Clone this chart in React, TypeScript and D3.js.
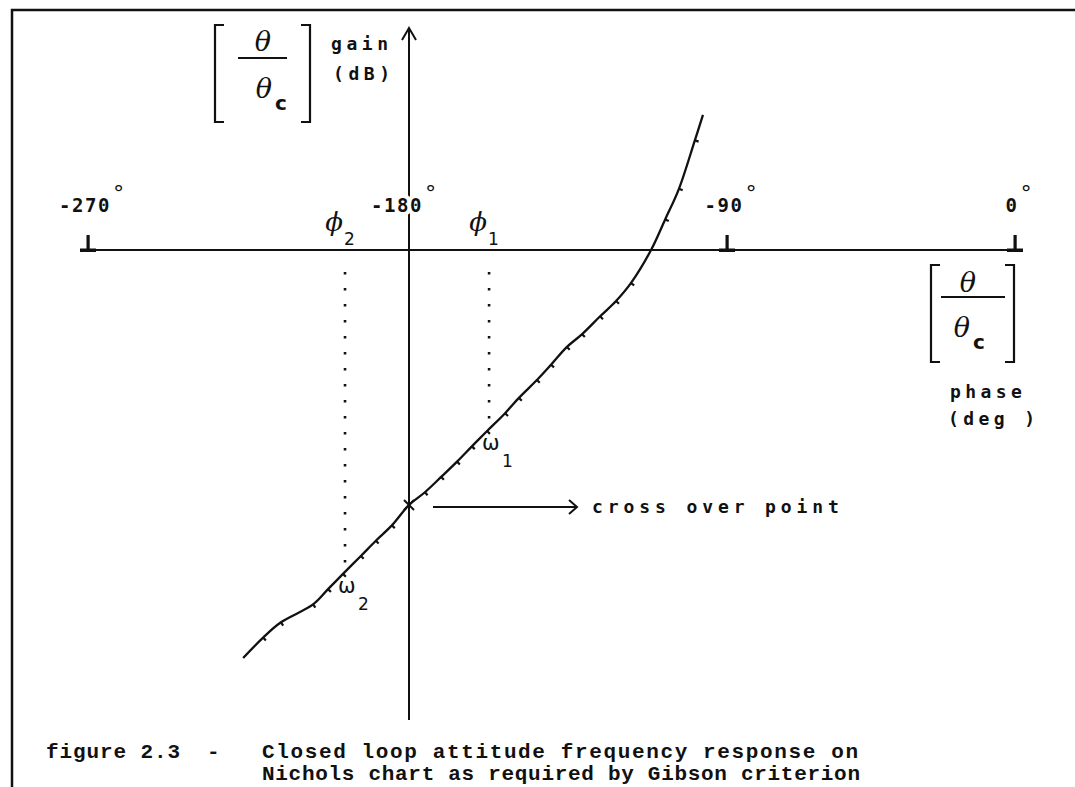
import React from 'react';
import * as d3 from 'd3';

// phase axis tick values (deg)
const phaseTicks = [-270, -180, -90, 0];

// closed loop attitude response: phase (deg), gain (dB)
const responsePhase = [
  -226.5, -220.9, -215.9, -206.9, -202.7, -198.5, -193.5, -189.3, -184.8, -180,
  -175.5, -170.9, -166.4, -162.2, -157.9, -152.8, -148.9, -143.8, -139.8, -135.3,
  -131.0, -125.9, -121.4, -117.2, -111.5, -107.5, -103.6, -99.1, -96.8,
];
const responseGain = [
  -16.0, -15.2, -14.6, -13.9, -13.3, -12.7, -12.0, -11.4, -10.8, -10.0,
  -9.5, -8.9, -8.3, -7.7, -7.1, -6.4, -5.8, -5.1, -4.5, -3.8,
  -3.3, -2.6, -2.0, -1.3, 0, 1.2, 2.4, 4.3, 5.3,
];

// the two frequencies used by the Gibson criterion (index of the point on the curve)
const omegaNames = ['1', '2'];
const omegaIndex = [14, 5];
const crossoverIndex = 9;

const captionFigure = 'figure 2.3';
const captionLine1 = 'Closed loop attitude frequency response on';
const captionLine2 = 'Nichols chart as required by Gibson criterion';

const W = 1075;
const H = 787;

const labelFont = "'DejaVu Sans Mono', monospace";
const thetaFont = "'DejaVu Serif', serif";
const sansFont = "'DejaVu Sans', sans-serif";
const captionFont = "'Liberation Mono', monospace";

// hand drawn phase axis, the ticks are not evenly spaced
const x = d3.scaleLinear().domain(phaseTicks).range([88, 409, 727, 1015]);
const y = d3.scaleLinear().domain([0, -10]).range([250, 505]);

// [ theta / theta_c ] block
function ThetaRatio(props) {
  const { lx, rx, top, bottom, x1, x2, lineY, numX, numY, denX, denY } = props;
  const serif = 9;
  return (
    <g>
      <path d={`M${lx + serif},${top}H${lx}V${bottom}H${lx + serif}`} fill="none" stroke="#111" strokeWidth={2.2} />
      <path d={`M${rx - serif},${top}H${rx}V${bottom}H${rx - serif}`} fill="none" stroke="#111" strokeWidth={2.2} />
      <line x1={x1} x2={x2} y1={lineY} y2={lineY} stroke="#111" strokeWidth={1.8} />
      <text x={numX} y={numY} textAnchor="middle" fontFamily={thetaFont} fontStyle="italic" fontSize={27} fill="#111">θ</text>
      <text x={denX} y={denY} textAnchor="middle" fontFamily={thetaFont} fontStyle="italic" fontSize={27} fill="#111">θ</text>
      <text x={denX + 11} y={denY + 12} fontFamily={sansFont} fontWeight="bold" fontSize={20} fill="#111">c</text>
    </g>
  );
}

export default function App() {
  const idx = d3.range(responsePhase.length);
  const px = (i) => x(responsePhase[i]);
  const py = (i) => y(responseGain[i]);

  const line = d3.line<number>()
    .x((i) => px(i))
    .y((i) => py(i))
    .curve(d3.curveCatmullRom.alpha(0.5));

  // little plotting ticks on the points, pointing to the lower right of the curve
  const marks = idx
    .filter((i) => i > 0 && i < idx.length - 1 && i !== crossoverIndex && responseGain[i] !== 0)
    .map((i) => {
      const dx = px(i + 1) - px(i - 1);
      const dy = py(i + 1) - py(i - 1);
      const len = Math.hypot(dx, dy);
      return { x: px(i), y: py(i), nx: -dy / len, ny: dx / len };
    });

  const axisY = y(0);
  const gainX = x(-180);
  const cx = px(crossoverIndex);
  const cy = py(crossoverIndex);

  return (
    <svg width={W} height={H} style={{ position: 'absolute', left: 0, top: 0, background: '#fff' }}>
      <rect width={W} height={H} fill="#fff" />
      {/* page frame */}
      <path d={`M12,${H}V10H${W}`} fill="none" stroke="#111" strokeWidth={2.5} />

      {/* gain axis with arrow */}
      <line x1={gainX} x2={gainX} y1={720} y2={28} stroke="#111" strokeWidth={2} />
      <path d={`M${gainX - 7},${40}L${gainX},${28}L${gainX + 7},${40}`} fill="none" stroke="#111" strokeWidth={2} />

      {/* phase axis */}
      <line x1={82} x2={1023} y1={axisY} y2={axisY} stroke="#111" strokeWidth={2.2} />
      {phaseTicks.filter((t) => t !== -180).map((t) => (
        <g key={t}>
          <rect x={x(t) - 1.5} y={axisY - 15} width={3.2} height={15} fill="#111" />
          <rect x={x(t) - 8} y={axisY - 1.5} width={16} height={3.5} fill="#111" />
        </g>
      ))}
      {phaseTicks.map((t) => {
        const s = String(t);
        // the -180 label sits left of the gain axis
        const cxl = x(t) - (t === -180 ? 12 : 3);
        const w = s.length * 13;
        return (
          <g key={`l${t}`} fontFamily={labelFont} fontWeight="bold" fill="#111">
            <text x={cxl} y={212} textAnchor="middle" fontSize={19} letterSpacing={1.6}
              stroke="#fff" strokeWidth={8} paintOrder="stroke">{s}</text>
            <text x={cxl + w / 2 + 1} y={201} fontSize={22} fontWeight="normal">°</text>
          </g>
        );
      })}

      {/* dotted drop lines with phi labels */}
      {omegaIndex.map((i, k) => (
        <g key={`phi${k}`}>
          <line x1={px(i) + 2} x2={px(i) + 2} y1={272} y2={py(i) - 11}
            stroke="#111" strokeWidth={2.6} strokeDasharray="2.6 13.4" />
          <text x={px(i) - 9} y={231} textAnchor="middle" fontFamily={thetaFont} fontStyle="italic" fontSize={26} fill="#111">ϕ</text>
          <text x={px(i) + 1} y={245} fontFamily={sansFont} fontSize={17} fill="#111">{omegaNames[k]}</text>
        </g>
      ))}

      {/* response curve */}
      <path d={line(idx) || ''} fill="none" stroke="#111" strokeWidth={2.3} strokeLinejoin="round" />
      {marks.map((m, k) => (
        <line key={k} x1={m.x} y1={m.y} x2={m.x + m.nx * 4} y2={m.y + m.ny * 4} stroke="#111" strokeWidth={2.2} />
      ))}

      {/* omega labels */}
      {omegaIndex.map((i, k) => (
        <g key={`w${k}`} fill="#111" fontFamily={sansFont}>
          <text x={px(i) - 5} y={py(i) + 19} fontSize={21}>ω</text>
          <text x={px(i) + 15} y={py(i) + 36} fontSize={17}>{omegaNames[k]}</text>
        </g>
      ))}

      {/* cross over point */}
      <path d={`M${cx - 5},${cy - 5}L${cx + 5},${cy + 5}M${cx - 5},${cy + 5}L${cx + 5},${cy - 5}`} stroke="#111" strokeWidth={2} />
      <line x1={cx + 24} x2={cx + 168} y1={cy + 2} y2={cy + 2} stroke="#111" strokeWidth={2} />
      <path d={`M${cx + 160},${cy - 5}L${cx + 168},${cy + 2}L${cx + 160},${cy + 9}`} fill="none" stroke="#111" strokeWidth={2} />
      <text x={cx + 183} y={cy + 8} fontFamily={labelFont} fontWeight="bold" fontSize={18} letterSpacing={4.9} fill="#111">cross over point</text>

      {/* axis names */}
      <ThetaRatio lx={215} rx={310} top={25} bottom={122} x1={238} x2={287} lineY={58} numX={263} numY={51} denX={264} denY={98} />
      <g fontFamily={labelFont} fontWeight="bold" fontSize={18} letterSpacing={4.6} fill="#111">
        <text x={331} y={50}>gain</text>
        <text x={333} y={80}>(dB)</text>
      </g>
      <ThetaRatio lx={931} rx={1014} top={265} bottom={362} x1={941} x2={1005} lineY={297} numX={968} numY={292} denX={962} denY={337} />
      <g fontFamily={labelFont} fontWeight="bold" fontSize={18} letterSpacing={4.4} fill="#111">
        <text x={950} y={398}>phase</text>
        <text x={948} y={425}>(deg )</text>
      </g>

      {/* caption */}
      <g fontFamily={captionFont} fontWeight="bold" fontSize={21} fill="#111">
        <text x={46} y={758} textLength={134} lengthAdjust="spacing">{captionFigure}</text>
        <text x={207} y={758}>-</text>
        <text x={262} y={758} textLength={596} lengthAdjust="spacing">{captionLine1}</text>
        <text x={262} y={780} textLength={598} lengthAdjust="spacing">{captionLine2}</text>
      </g>
    </svg>
  );
}
